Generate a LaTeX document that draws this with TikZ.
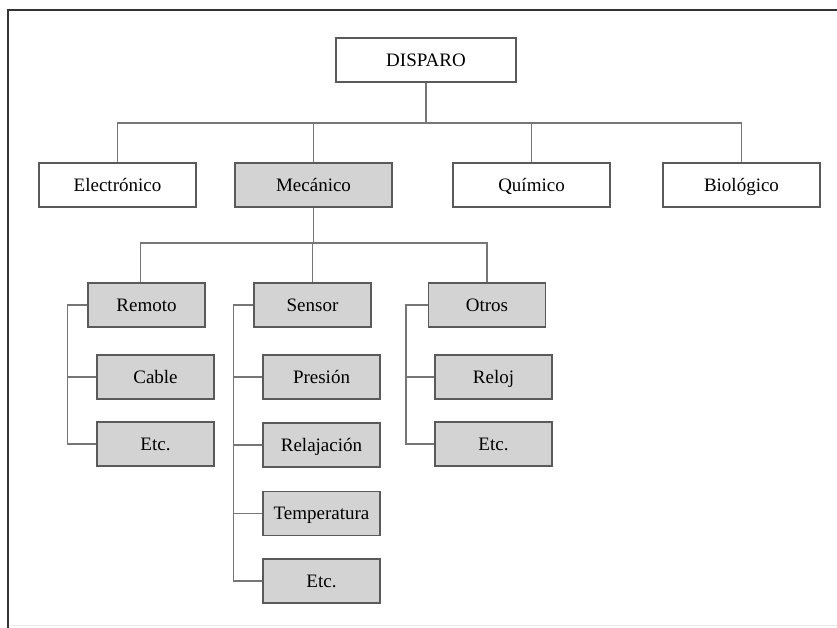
\documentclass[tikz,border=0pt]{standalone}
\usepackage{fontspec}
\setmainfont{Liberation Serif}
\usepackage{xcolor}
\usetikzlibrary{positioning, calc}
\definecolor{boxgray}{HTML}{D3D3D3}
\definecolor{edgegray}{HTML}{5A5A5A}
\definecolor{linkgray}{HTML}{767676}

\begin{document}
\begin{tikzpicture}[
    x=1pt, y=1pt,
    box/.style={rectangle, draw=edgegray, line width=1.1pt, fill=#1, inner sep=0pt, minimum height=44pt, text height=14pt, text depth=1.5pt, align=center, font=\fontsize{19}{22}\selectfont},
    box/.default=white,
    wide/.style={box=#1, minimum width=157pt},
    small/.style={box=boxgray, minimum width=117pt},
    link/.style={draw=linkgray, line width=1.1pt}
]
\useasboundingbox (0,0) rectangle (837,-628);
% frame
\draw[line width=2.4pt, black!80] (8,-628) -- (8,-10) -- (837,-10);
\draw[line width=0.8pt, black!8] (10,-625) -- (837,-625);

\node[box, minimum width=180pt] (disparo) at (426,-60) {DISPARO};
\node[wide=white] (electronico) at (117.5,-185) {Electrónico};
\node[wide=boxgray] (mecanico) at (313.5,-185) {Mecánico};
\node[wide=white] (quimico) at (531.5,-185) {Químico};
\node[wide=white] (biologico) at (741.5,-185) {Biológico};

\node[small] (remoto) at (146.5,-305) {Remoto};
\node[small] (sensor) at (312.5,-305) {Sensor};
\node[small] (otros) at (487,-305) {Otros};

\node[small] (cable) at (155.5,-377) {Cable};
\node[small] (etcremoto) at (155.5,-444) {Etc.};
\node[small] (presion) at (321.5,-377) {Presión};
\node[small] (relajacion) at (321.5,-445) {Relajación};
\node[small] (temperatura) at (321.5,-513.5) {Temperatura};
\node[small] (etcsensor) at (321.5,-581) {Etc.};
\node[small] (reloj) at (493.5,-377) {Reloj};
\node[small] (etcotros) at (493.5,-444) {Etc.};

\coordinate (bus1) at (disparo.south |- 0,-123);
\coordinate (bus2) at (mecanico.south |- 0,-243);
\draw[link] (disparo.south) -- (bus1);
\foreach \n in {electronico, mecanico, quimico, biologico}
    \draw[link] (bus1) -| (\n.north);
\draw[link] (mecanico.south) -- (bus2);
\draw[link] (bus2) -| ([xshift=-6pt]remoto.north);
\foreach \n in {sensor, otros}
    \draw[link] (bus2) -| (\n.north);

\foreach \n in {cable, etcremoto}
    \draw[link] (remoto.west) -- ++(-20,0) |- (\n.west);
\foreach \n in {presion, relajacion, temperatura, etcsensor}
    \draw[link] (sensor.west) -- ++(-20,0) |- (\n.west);
\foreach \n in {reloj, etcotros}
    \draw[link] (otros.west) -- ++(-22,0) |- (\n.west);
\end{tikzpicture}
\end{document}
